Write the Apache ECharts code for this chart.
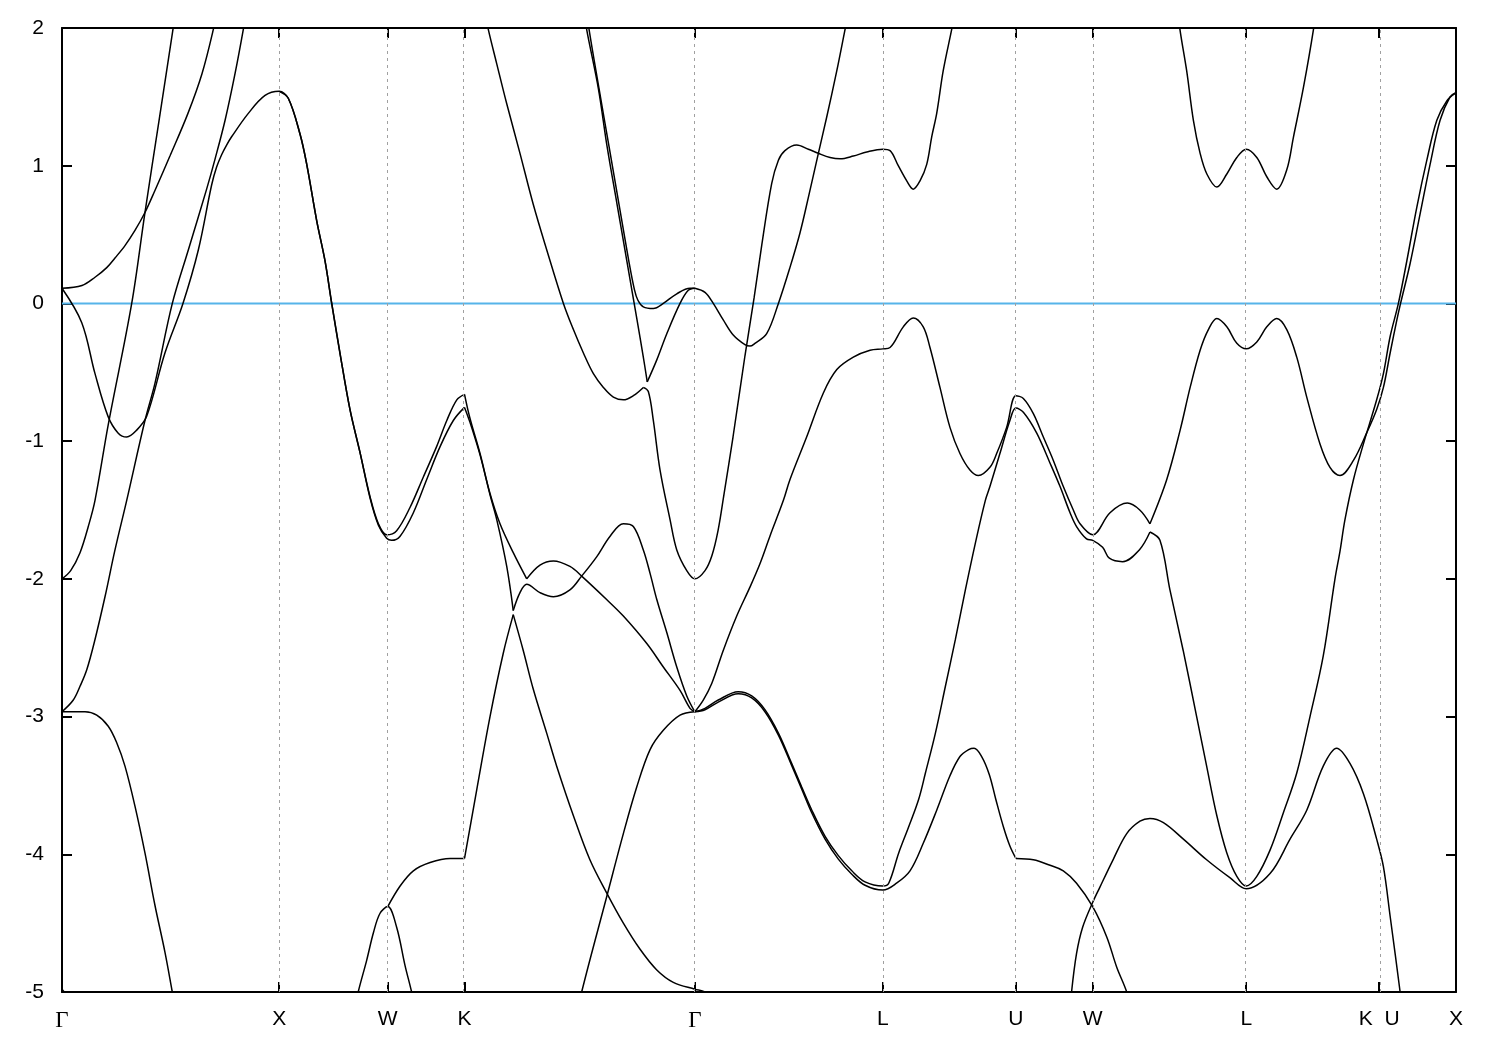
<!DOCTYPE html>
<html>
<head>
<meta charset="utf-8">
<script src="https://cdn.jsdelivr.net/npm/echarts@6/dist/echarts.min.js"></script>
<style>
html,body{margin:0;padding:0;background:#fff;}
#chart{width:1500px;height:1050px;}
</style>
</head>
<body>
<div id="chart"></div>
<script>
// k-path high-symmetry points (path length, units of 2pi/a) and their labels
const kTickPos = [0, 1.0, 1.5, 1.8536, 2.9142, 3.7802, 4.3926, 4.7462, 5.4533, 6.0657, 6.4193];
const kTickLabels = ['Γ', 'X', 'W', 'K', 'Γ', 'L', 'U', 'W', 'L', 'K  U', 'X'];
const energyMin = -5, energyMax = 2, energyStep = 1;
const fermiLevel = 0;

// Bands: [k, E(eV)]
const bandA = [[0,0.11],[0.092,0.13],[0.152,0.19],[0.206,0.26],[0.244,0.33],[0.290,0.42],[0.336,0.53],[0.382,0.66],[0.428,0.82],[0.497,1.07],[0.580,1.38],[0.645,1.67],[0.697,1.99],[0.712,2.12]];
const bandB = [[0,0.11],[0.091,-0.14],[0.152,-0.51],[0.212,-0.82],[0.258,-0.94],[0.298,-0.97],[0.344,-0.92],[0.390,-0.82],[0.474,-0.36],[0.557,0.00],[0.628,0.39],[0.689,0.86],[0.712,0.99],[0.735,1.08],[0.758,1.15],[0.781,1.21],[0.858,1.38],[0.935,1.51],[1.0,1.54],[1.042,1.49],[1.096,1.23],[1.127,1.01],[1.173,0.60],[1.211,0.31],[1.242,0.00],[1.280,-0.36],[1.326,-0.77],[1.372,-1.08],[1.418,-1.40],[1.457,-1.60],[1.495,-1.68],[1.541,-1.65],[1.603,-1.48],[1.664,-1.26],[1.725,-1.04],[1.772,-0.85],[1.818,-0.70],[1.8536,-0.66]];
const bandB2 = [[1.0,1.54],[1.042,1.49],[1.096,1.23],[1.127,1.01],[1.173,0.60],[1.211,0.31],[1.242,0.00],[1.280,-0.36],[1.326,-0.77],[1.372,-1.08],[1.418,-1.41],[1.457,-1.61],[1.495,-1.705],[1.518,-1.72],[1.557,-1.69],[1.618,-1.52],[1.679,-1.28],[1.741,-1.04],[1.802,-0.85],[1.8536,-0.755]];
const bandC = [[0,-2.965],[0.052,-2.88],[0.083,-2.78],[0.114,-2.66],[0.152,-2.44],[0.198,-2.13],[0.244,-1.79],[0.298,-1.43],[0.382,-0.85],[0.428,-0.58],[0.508,0.00],[0.582,0.39],[0.666,0.83],[0.705,1.05],[0.751,1.33],[0.797,1.67],[0.835,1.99],[0.848,2.12]];
const bandD = [[0,-2.0],[0.04,-1.94],[0.083,-1.81],[0.121,-1.62],[0.152,-1.43],[0.213,-0.88],[0.321,0.00],[0.382,0.66],[0.447,1.33],[0.511,1.99],[0.523,2.12]];
const bandE = [[0,-2.965],[0.106,-2.965],[0.160,-2.99],[0.213,-3.07],[0.252,-3.19],[0.290,-3.36],[0.336,-3.65],[0.382,-3.99],[0.428,-4.37],[0.474,-4.71],[0.508,-5.00],[0.522,-5.12]];
const bandG = [[1.35,-5.12],[1.364,-5.0],[1.403,-4.77],[1.434,-4.57],[1.464,-4.43],[1.5,-4.38],[1.541,-4.53],[1.580,-4.81],[1.610,-5.0],[1.625,-5.12]];
const bandF = [[1.5,-4.38],[1.557,-4.23],[1.618,-4.12],[1.695,-4.06],[1.787,-4.03],[1.8536,-4.03]];
const bandL1a = [[1.8536,-4.03],[1.910,-3.53],[1.971,-3.00],[2.032,-2.54],[2.078,-2.26]];
const bandL1b = [[2.078,-2.26],[2.124,-2.52],[2.170,-2.80],[2.232,-3.12],[2.278,-3.36],[2.355,-3.72],[2.431,-4.04],[2.508,-4.28],[2.585,-4.50],[2.662,-4.69],[2.739,-4.84],[2.815,-4.93],[2.9142,-4.98],[2.96,-5.0],[3.0,-5.06]];
const bandGammaLow = [[0,-4.98],[0.03,-5.04]];
const bandM = [[2.38,-5.12],[2.393,-5.0],[2.508,-4.31],[2.585,-3.85],[2.647,-3.51],[2.708,-3.24],[2.769,-3.10],[2.846,-2.99],[2.9142,-2.965]];
const bandH1 = [[1.95,2.1],[1.963,1.99],[2.002,1.74],[2.048,1.45],[2.109,1.09],[2.170,0.72],[2.232,0.39],[2.309,0.00],[2.355,-0.19],[2.401,-0.36],[2.447,-0.51],[2.493,-0.61],[2.539,-0.68],[2.585,-0.70],[2.631,-0.67],[2.677,-0.61]];
const bandH2 = [[2.677,-0.61],[2.700,-0.64],[2.723,-0.85],[2.754,-1.21],[2.800,-1.57],[2.831,-1.79],[2.877,-1.94],[2.9142,-2.00],[2.961,-1.94],[2.993,-1.83],[3.021,-1.65],[3.048,-1.39],[3.090,-0.97],[3.145,-0.38],[3.187,0.04],[3.223,0.43],[3.268,0.87],[3.299,1.04],[3.329,1.11],[3.383,1.15],[3.437,1.12],[3.483,1.09],[3.537,1.06],[3.583,1.05],[3.644,1.07],[3.706,1.10],[3.7802,1.12],[3.813,1.11],[3.851,1.00],[3.890,0.89],[3.920,0.83],[3.951,0.89],[3.982,1.01],[4.005,1.21],[4.028,1.38],[4.058,1.69],[4.097,1.99],[4.11,2.1]];
const bandV1 = [[2.41,2.08],[2.416,1.99],[2.470,1.56],[2.510,1.14],[2.556,0.72],[2.602,0.30],[2.648,-0.12],[2.676,-0.38],[2.695,-0.57]];
const bandV2 = [[2.695,-0.57],[2.739,-0.41],[2.785,-0.22],[2.846,0.00],[2.884,0.095],[2.9142,0.11]];
const bandK1 = [[2.421,2.08],[2.427,1.99],[2.473,1.56],[2.519,1.14],[2.565,0.72],[2.611,0.30],[2.636,0.10],[2.652,0.023],[2.677,-0.025],[2.723,-0.037],[2.769,0.00],[2.831,0.07],[2.892,0.11],[2.9142,0.11]];
const bandKa1 = [[1.8536,-0.66],[1.878,-0.83],[1.925,-1.09],[1.971,-1.38],[2.017,-1.60],[2.078,-1.81],[2.140,-2.00]];
const bandKa2 = [[2.140,-2.00],[2.201,-1.90],[2.263,-1.87],[2.339,-1.91],[2.393,-1.98],[2.508,-2.15],[2.585,-2.27],[2.693,-2.47],[2.769,-2.64],[2.846,-2.81],[2.892,-2.94],[2.9142,-2.965]];
const bandKb1 = [[1.8536,-0.755],[1.878,-0.86],[1.925,-1.10],[1.971,-1.39],[2.002,-1.57],[2.048,-1.91],[2.078,-2.23]];
const bandKb2 = [[2.078,-2.23],[2.109,-2.10],[2.140,-2.04],[2.201,-2.10],[2.263,-2.13],[2.339,-2.08],[2.393,-1.98],[2.462,-1.84],[2.524,-1.69],[2.585,-1.60],[2.631,-1.62],[2.677,-1.79],[2.708,-1.96],[2.739,-2.15],[2.785,-2.39],[2.831,-2.64],[2.877,-2.85],[2.9142,-2.965]];
const bandI = [[2.9142,0.11],[2.961,0.08],[2.999,0.00],[3.045,-0.12],[3.091,-0.23],[3.145,-0.30],[3.168,-0.31],[3.191,-0.29],[3.245,-0.22],[3.299,0.00],[3.352,0.26],[3.398,0.51],[3.437,0.77],[3.483,1.09],[3.521,1.35],[3.568,1.69],[3.606,1.99],[3.62,2.1]];
const bandN1 = [[2.9142,-2.965],[2.953,-2.88],[2.992,-2.76],[3.045,-2.52],[3.107,-2.27],[3.168,-2.06],[3.214,-1.89],[3.260,-1.69],[3.322,-1.43],[3.352,-1.28],[3.429,-0.97],[3.506,-0.65],[3.568,-0.48],[3.644,-0.39],[3.721,-0.34],[3.7802,-0.33],[3.813,-0.32],[3.874,-0.17],[3.920,-0.105],[3.966,-0.17],[3.997,-0.32],[4.043,-0.61],[4.089,-0.90],[4.135,-1.09],[4.181,-1.21],[4.220,-1.25],[4.273,-1.19],[4.304,-1.09],[4.350,-0.90],[4.3926,-0.67],[4.427,-0.69],[4.473,-0.80],[4.519,-0.97],[4.565,-1.14],[4.611,-1.33],[4.657,-1.50],[4.688,-1.60],[4.7462,-1.68],[4.826,-1.52],[4.906,-1.45],[4.963,-1.50],[5.010,-1.60]];
const bandN2 = [[5.010,-1.60],[5.087,-1.28],[5.149,-0.92],[5.195,-0.61],[5.241,-0.34],[5.279,-0.19],[5.318,-0.11],[5.364,-0.17],[5.410,-0.29],[5.4533,-0.33],[5.502,-0.28],[5.548,-0.17],[5.594,-0.11],[5.640,-0.19],[5.686,-0.39],[5.732,-0.68],[5.793,-1.02],[5.839,-1.19],[5.885,-1.25],[5.947,-1.14],[6.008,-0.94],[6.054,-0.77],[6.085,-0.61],[6.116,-0.36],[6.147,-0.12],[6.164,0.00],[6.208,0.29],[6.254,0.65],[6.300,1.01],[6.346,1.33],[6.392,1.50],[6.4193,1.53]];
const bandP1 = [[2.9142,-2.965],[2.961,-2.94],[3.022,-2.88],[3.114,-2.82],[3.176,-2.85],[3.237,-2.95],[3.299,-3.12],[3.360,-3.34],[3.406,-3.51],[3.453,-3.68],[3.514,-3.87],[3.575,-4.01],[3.637,-4.12],[3.698,-4.20],[3.7802,-4.23],[3.807,-4.21],[3.853,-3.99],[3.899,-3.80],[3.945,-3.60],[3.976,-3.41],[4.022,-3.12],[4.068,-2.78],[4.114,-2.44],[4.160,-2.08],[4.206,-1.74],[4.252,-1.43],[4.273,-1.33],[4.319,-1.09],[4.365,-0.85],[4.3926,-0.76],[4.427,-0.79],[4.488,-0.94],[4.550,-1.16],[4.596,-1.33],[4.642,-1.52],[4.672,-1.62],[4.718,-1.71],[4.7462,-1.72],[4.792,-1.77],[4.823,-1.85],[4.884,-1.875],[4.961,-1.79],[5.010,-1.66]];
const bandP2 = [[5.010,-1.66],[5.056,-1.72],[5.102,-2.08],[5.163,-2.52],[5.225,-3.00],[5.271,-3.36],[5.318,-3.72],[5.364,-3.99],[5.410,-4.16],[5.4533,-4.23],[5.502,-4.16],[5.563,-3.97],[5.624,-3.70],[5.686,-3.41],[5.747,-3.00],[5.808,-2.56],[5.862,-2.00],[5.885,-1.80],[5.908,-1.57],[5.947,-1.28],[5.993,-1.02],[6.054,-0.70],[6.085,-0.51],[6.116,-0.24],[6.154,0.00],[6.193,0.31],[6.239,0.70],[6.285,1.04],[6.331,1.33],[6.377,1.47],[6.4193,1.53]];
const bandQ1 = [[2.9142,-2.965],[2.961,-2.95],[3.022,-2.895],[3.114,-2.835],[3.176,-2.865],[3.237,-2.965],[3.299,-3.135],[3.360,-3.355],[3.406,-3.525],[3.453,-3.70],[3.514,-3.89],[3.575,-4.035],[3.637,-4.145],[3.698,-4.225],[3.7802,-4.26],[3.843,-4.21],[3.905,-4.12],[3.966,-3.92],[4.028,-3.68],[4.089,-3.43],[4.135,-3.29],[4.175,-3.24],[4.20,-3.23],[4.235,-3.29],[4.27,-3.42],[4.30,-3.60],[4.335,-3.80],[4.365,-3.94],[4.3926,-4.03]];
const bandQ2 = [[4.3926,-4.03],[4.473,-4.04],[4.550,-4.08],[4.611,-4.12],[4.672,-4.21],[4.7462,-4.38],[4.811,-4.60],[4.857,-4.82],[4.903,-5.00],[4.92,-5.12]];
const bandR = [[4.645,-5.12],[4.649,-5.00],[4.672,-4.72],[4.700,-4.53],[4.746,-4.35],[4.779,-4.24],[4.840,-4.04],[4.903,-3.85],[4.964,-3.76],[5.010,-3.74],[5.072,-3.77],[5.164,-3.89],[5.271,-4.04],[5.378,-4.17],[5.4533,-4.25],[5.563,-4.14],[5.655,-3.89],[5.732,-3.68],[5.808,-3.36],[5.870,-3.23],[5.931,-3.34],[5.993,-3.56],[6.054,-3.89],[6.085,-4.09],[6.116,-4.45],[6.162,-5.00],[6.17,-5.12]];
const bandT = [[5.142,2.1],[5.148,1.99],[5.179,1.69],[5.210,1.33],[5.241,1.09],[5.272,0.94],[5.318,0.845],[5.364,0.94],[5.410,1.06],[5.4533,1.12],[5.502,1.06],[5.548,0.92],[5.594,0.83],[5.640,0.97],[5.671,1.21],[5.717,1.57],[5.763,1.99],[5.77,2.1]];

const bands = [bandA, bandB, bandB2, bandC, bandD, bandE, bandG, bandF, bandL1a, bandL1b, bandGammaLow,
  bandM, bandH1, bandH2, bandV1, bandV2, bandK1, bandKa1, bandKa2, bandKb1, bandKb2, bandI,
  bandN1, bandN2, bandP1, bandP2, bandQ1, bandQ2, bandR, bandT];

const FONT = '"Liberation Sans", Arial, Helvetica, sans-serif';
const kMax = kTickPos[kTickPos.length - 1];

function kLabel(v) {
  let best = 0, bd = Infinity;
  kTickPos.forEach((p, i) => { const d = Math.abs(p - v); if (d < bd) { bd = d; best = i; } });
  const t = kTickLabels[best];
  return t === 'Γ' ? '{g|Γ}' : t;
}

const chart = echarts.init(document.getElementById('chart'), null, {renderer: 'canvas'});

const bandSeries = bands.map(d => ({
  type: 'line', data: d, xAxisIndex: 0, yAxisIndex: 0,
  symbol: 'none', smooth: 0.35, clip: true,
  lineStyle: {color: '#000000', width: 1.5}, silent: true, z: 4
}));

const option = {
  backgroundColor: '#ffffff',
  animation: false,
  grid: {left: 62, right: 44, top: 28, bottom: 58, containLabel: false},
  xAxis: [{
    type: 'value', min: 0, max: kMax, position: 'bottom',
    axisLine: {show: true, onZero: false, lineStyle: {color: '#000', width: 2}},
    axisTick: {show: true, inside: true, length: 10, customValues: kTickPos, lineStyle: {color: '#000', width: 2}},
    axisLabel: {show: true, customValues: kTickPos, formatter: kLabel, margin: 17, fontSize: 21, color: '#000', fontFamily: FONT,
      showMinLabel: true, showMaxLabel: true, hideOverlap: false,
      rich: {g: {fontFamily: '"Liberation Serif", "Times New Roman", serif', fontSize: 23, color: '#000'}}},
    splitLine: {show: false}
  }, {
    type: 'value', min: 0, max: kMax, position: 'top',
    axisLine: {show: true, onZero: false, lineStyle: {color: '#000', width: 2}},
    axisTick: {show: true, inside: true, length: 10, customValues: kTickPos, lineStyle: {color: '#000', width: 2}},
    axisLabel: {show: false},
    splitLine: {show: false}
  }],
  yAxis: [{
    type: 'value', min: energyMin, max: energyMax, interval: energyStep, position: 'left',
    axisLine: {show: true, onZero: false, lineStyle: {color: '#000', width: 2}},
    axisTick: {show: true, inside: true, length: 10, lineStyle: {color: '#000', width: 2}},
    axisLabel: {show: true, margin: 18, fontSize: 21, color: '#000', fontFamily: FONT},
    splitLine: {show: false}
  }, {
    type: 'value', min: energyMin, max: energyMax, interval: energyStep, position: 'right',
    axisLine: {show: true, onZero: false, lineStyle: {color: '#000', width: 2}},
    axisTick: {show: true, inside: true, length: 10, lineStyle: {color: '#000', width: 2}},
    axisLabel: {show: false},
    splitLine: {show: false}
  }],
  series: [{
    type: 'line', data: [[0, fermiLevel], [kMax, fermiLevel]], xAxisIndex: 0, yAxisIndex: 0,
    symbol: 'none', silent: true, z: 2,
    lineStyle: {color: '#56b4e9', width: 2},
    markLine: {
      silent: true, symbol: ['none', 'none'], label: {show: false},
      lineStyle: {color: '#a0a0a0', width: 1, type: [3, 4]},
      data: kTickPos.slice(1, -1).map(p => ({xAxis: p}))
    }
  }].concat(bandSeries)
};
chart.setOption(option);
</script>
</body>
</html>
